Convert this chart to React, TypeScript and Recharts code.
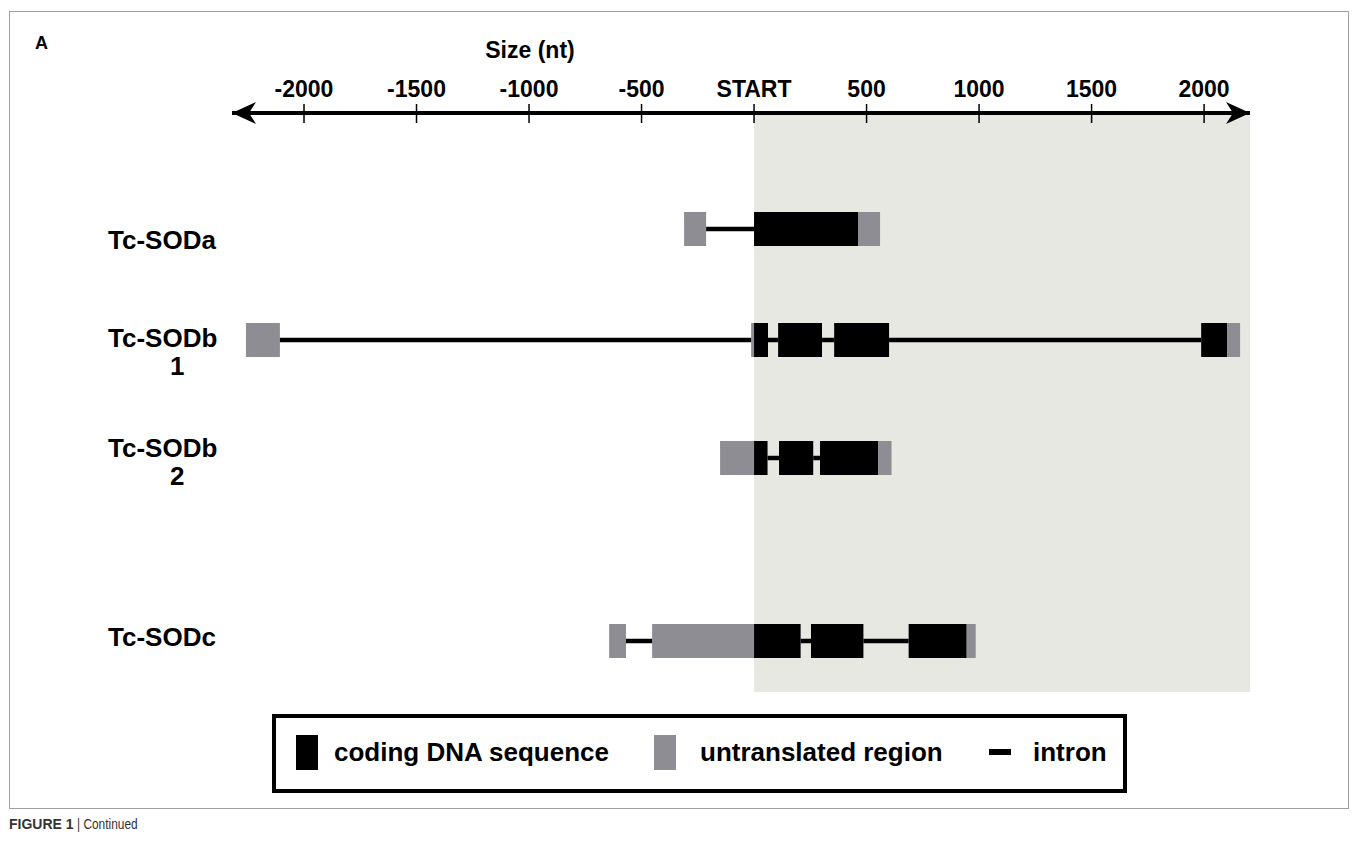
import { ComposedChart, Line, ReferenceArea, ReferenceDot, XAxis, YAxis } from 'recharts';

// axis (nt, START = 0)
const axisMin = -2320;
const axisMax = 2204;
const tickValues = [-2000, -1500, -1000, -500, 0, 500, 1000, 1500, 2000];
const tickLabels = ['-2000', '-1500', '-1000', '-500', 'START', '500', '1000', '1500', '2000'];

const genes = ['Tc-SODa', 'Tc-SODb1', 'Tc-SODb2', 'Tc-SODc'];
const geneLabels = [['Tc-SODa'], ['Tc-SODb', '1'], ['Tc-SODb', '2'], ['Tc-SODc']];

// segments: [start, end, kind]  kind: cds | utr | intron
const tcSODa = [
    [-311, -213, 'utr'], [-213, 0, 'intron'], [0, 462, 'cds'], [462, 560, 'utr'],
];
const tcSODb1 = [
    [-2258, -2107, 'utr'], [-2107, -13, 'intron'], [-13, 0, 'utr'], [0, 62, 'cds'],
    [62, 107, 'intron'], [107, 302, 'cds'], [302, 356, 'intron'], [356, 600, 'cds'],
    [600, 1987, 'intron'], [1987, 2102, 'cds'], [2102, 2160, 'utr'],
];
const tcSODb2 = [
    [-151, 0, 'utr'], [0, 60, 'cds'], [60, 111, 'intron'], [111, 263, 'cds'],
    [263, 293, 'intron'], [293, 551, 'cds'], [551, 611, 'utr'],
];
const tcSODc = [
    [-644, -569, 'utr'], [-569, -453, 'intron'], [-453, 0, 'utr'], [0, 207, 'cds'],
    [207, 253, 'intron'], [253, 486, 'cds'], [486, 687, 'intron'], [687, 945, 'cds'], [945, 985, 'utr'],
];
const segments: any[][] = [tcSODa, tcSODb1, tcSODb2, tcSODc];

// layout only: row centre (px below the axis line) and label tops
const rowY = [116, 227, 345, 528];
const labelTop = [226, 324, 434, 623];
const half = 17;
const plotH = 579;

const font = '"Liberation Sans", Arial, sans-serif';
const CDS = '#000000';
const UTR = '#8e8d93';
const SHADE = '#e8e8e3';

const AxisTick = (props: any) => {
    const { x, y, payload } = props;
    const i = tickValues.indexOf(payload.value);
    return (
        <g>
            <line x1={x} x2={x} y1={y - 9} y2={y + 10} stroke="#000" strokeWidth={1.5} />
            <text x={x} y={y - 16} textAnchor="middle" fontFamily={font} fontWeight="bold" fontSize={23} fill="#000">
                {tickLabels[i]}
            </text>
        </g>
    );
};

const leftArrow = (p: any) => (
    <polygon points={`${p.cx},${p.cy} ${p.cx + 24},${p.cy - 11} ${p.cx + 17},${p.cy} ${p.cx + 24},${p.cy + 11}`} fill="#000" />
);
const rightArrow = (p: any) => (
    <polygon points={`${p.cx},${p.cy} ${p.cx - 24},${p.cy - 11} ${p.cx - 17},${p.cy} ${p.cx - 24},${p.cy + 11}`} fill="#000" />
);

const legendText = { position: 'absolute', top: 17, fontSize: 26, fontWeight: 'bold', lineHeight: '34px', whiteSpace: 'nowrap' } as const;

export default function App() {
    return (
        <div style={{ position: 'absolute', left: 0, top: 0, width: 1358, height: 864, background: '#fff', fontFamily: font }}>
            <div style={{ position: 'absolute', left: 9, top: 11, width: 1340, height: 798, border: '1px solid #a0a0a0', boxSizing: 'border-box' }} />
            <div style={{ position: 'absolute', left: 35, top: 33, fontSize: 18, fontWeight: 'bold' }}>A</div>
            <div style={{ position: 'absolute', left: 430, top: 37, width: 200, textAlign: 'center', fontSize: 23, fontWeight: 'bold' }}>Size (nt)</div>

            <div style={{ position: 'absolute', left: 0, top: 0 }}>
                <ComposedChart width={1358} height={864} margin={{ top: 53, right: 108, bottom: 172, left: 232 }}>
                    <XAxis
                        type="number"
                        dataKey="x"
                        orientation="top"
                        domain={[axisMin, axisMax]}
                        ticks={tickValues}
                        interval={0}
                        height={60}
                        tickSize={0}
                        tickMargin={0}
                        tickLine={false}
                        axisLine={{ stroke: '#000', strokeWidth: 4 }}
                        tick={<AxisTick />}
                        allowDataOverflow
                    />
                    <YAxis type="number" domain={[0, plotH]} reversed hide />
                    <ReferenceArea x1={0} x2={axisMax} y1={2} y2={plotH} fill={SHADE} fillOpacity={1} stroke="none" />
                    {segments.map((segs, gi) =>
                        segs.filter((s) => s[2] !== 'intron').map((s, si) => (
                            <ReferenceArea
                                key={`${genes[gi]}-e${si}`}
                                x1={s[0]}
                                x2={s[1]}
                                y1={rowY[gi] - half}
                                y2={rowY[gi] + half}
                                fill={s[2] === 'cds' ? CDS : UTR}
                                fillOpacity={1}
                                stroke="none"
                            />
                        ))
                    )}
                    {segments.map((segs, gi) =>
                        segs.filter((s) => s[2] === 'intron').map((s, si) => (
                            <Line
                                key={`${genes[gi]}-i${si}`}
                                data={[{ x: s[0], y: rowY[gi] }, { x: s[1], y: rowY[gi] }]}
                                dataKey="y"
                                stroke="#000"
                                strokeWidth={4.5}
                                dot={false}
                                activeDot={false}
                                isAnimationActive={false}
                            />
                        ))
                    )}
                    <ReferenceDot x={axisMin} y={0} r={0} ifOverflow="visible" shape={leftArrow} />
                    <ReferenceDot x={axisMax} y={0} r={0} ifOverflow="visible" shape={rightArrow} />
                </ComposedChart>
            </div>

            {geneLabels.map((lines, gi) => (
                <div key={genes[gi]} style={{ position: 'absolute', left: 108, top: labelTop[gi], fontSize: 26, fontWeight: 'bold', lineHeight: '28px' }}>
                    <div>{lines[0]}</div>
                    {lines[1] && <div style={{ paddingLeft: 62 }}>{lines[1]}</div>}
                </div>
            ))}

            <div style={{ position: 'absolute', left: 272, top: 714, width: 855, height: 79, border: '4px solid #000', boxSizing: 'border-box' }}>
                <div style={{ position: 'absolute', left: 20, top: 17, width: 22, height: 35, background: CDS }} />
                <div style={{ ...legendText, left: 58 }}>coding DNA sequence</div>
                <div style={{ position: 'absolute', left: 378, top: 17, width: 22, height: 35, background: UTR }} />
                <div style={{ ...legendText, left: 424 }}>untranslated region</div>
                <div style={{ position: 'absolute', left: 713, top: 31, width: 22, height: 6, background: '#000' }} />
                <div style={{ ...legendText, left: 757 }}>intron</div>
            </div>

            <div style={{ position: 'absolute', left: 9, top: 816, fontSize: 14, color: '#333', whiteSpace: 'nowrap' }}>
                <b>FIGURE 1</b> <span style={{ display: 'inline-block', transform: 'scaleX(0.85)', transformOrigin: 'left' }}>| Continued</span>
            </div>
        </div>
    );
}
